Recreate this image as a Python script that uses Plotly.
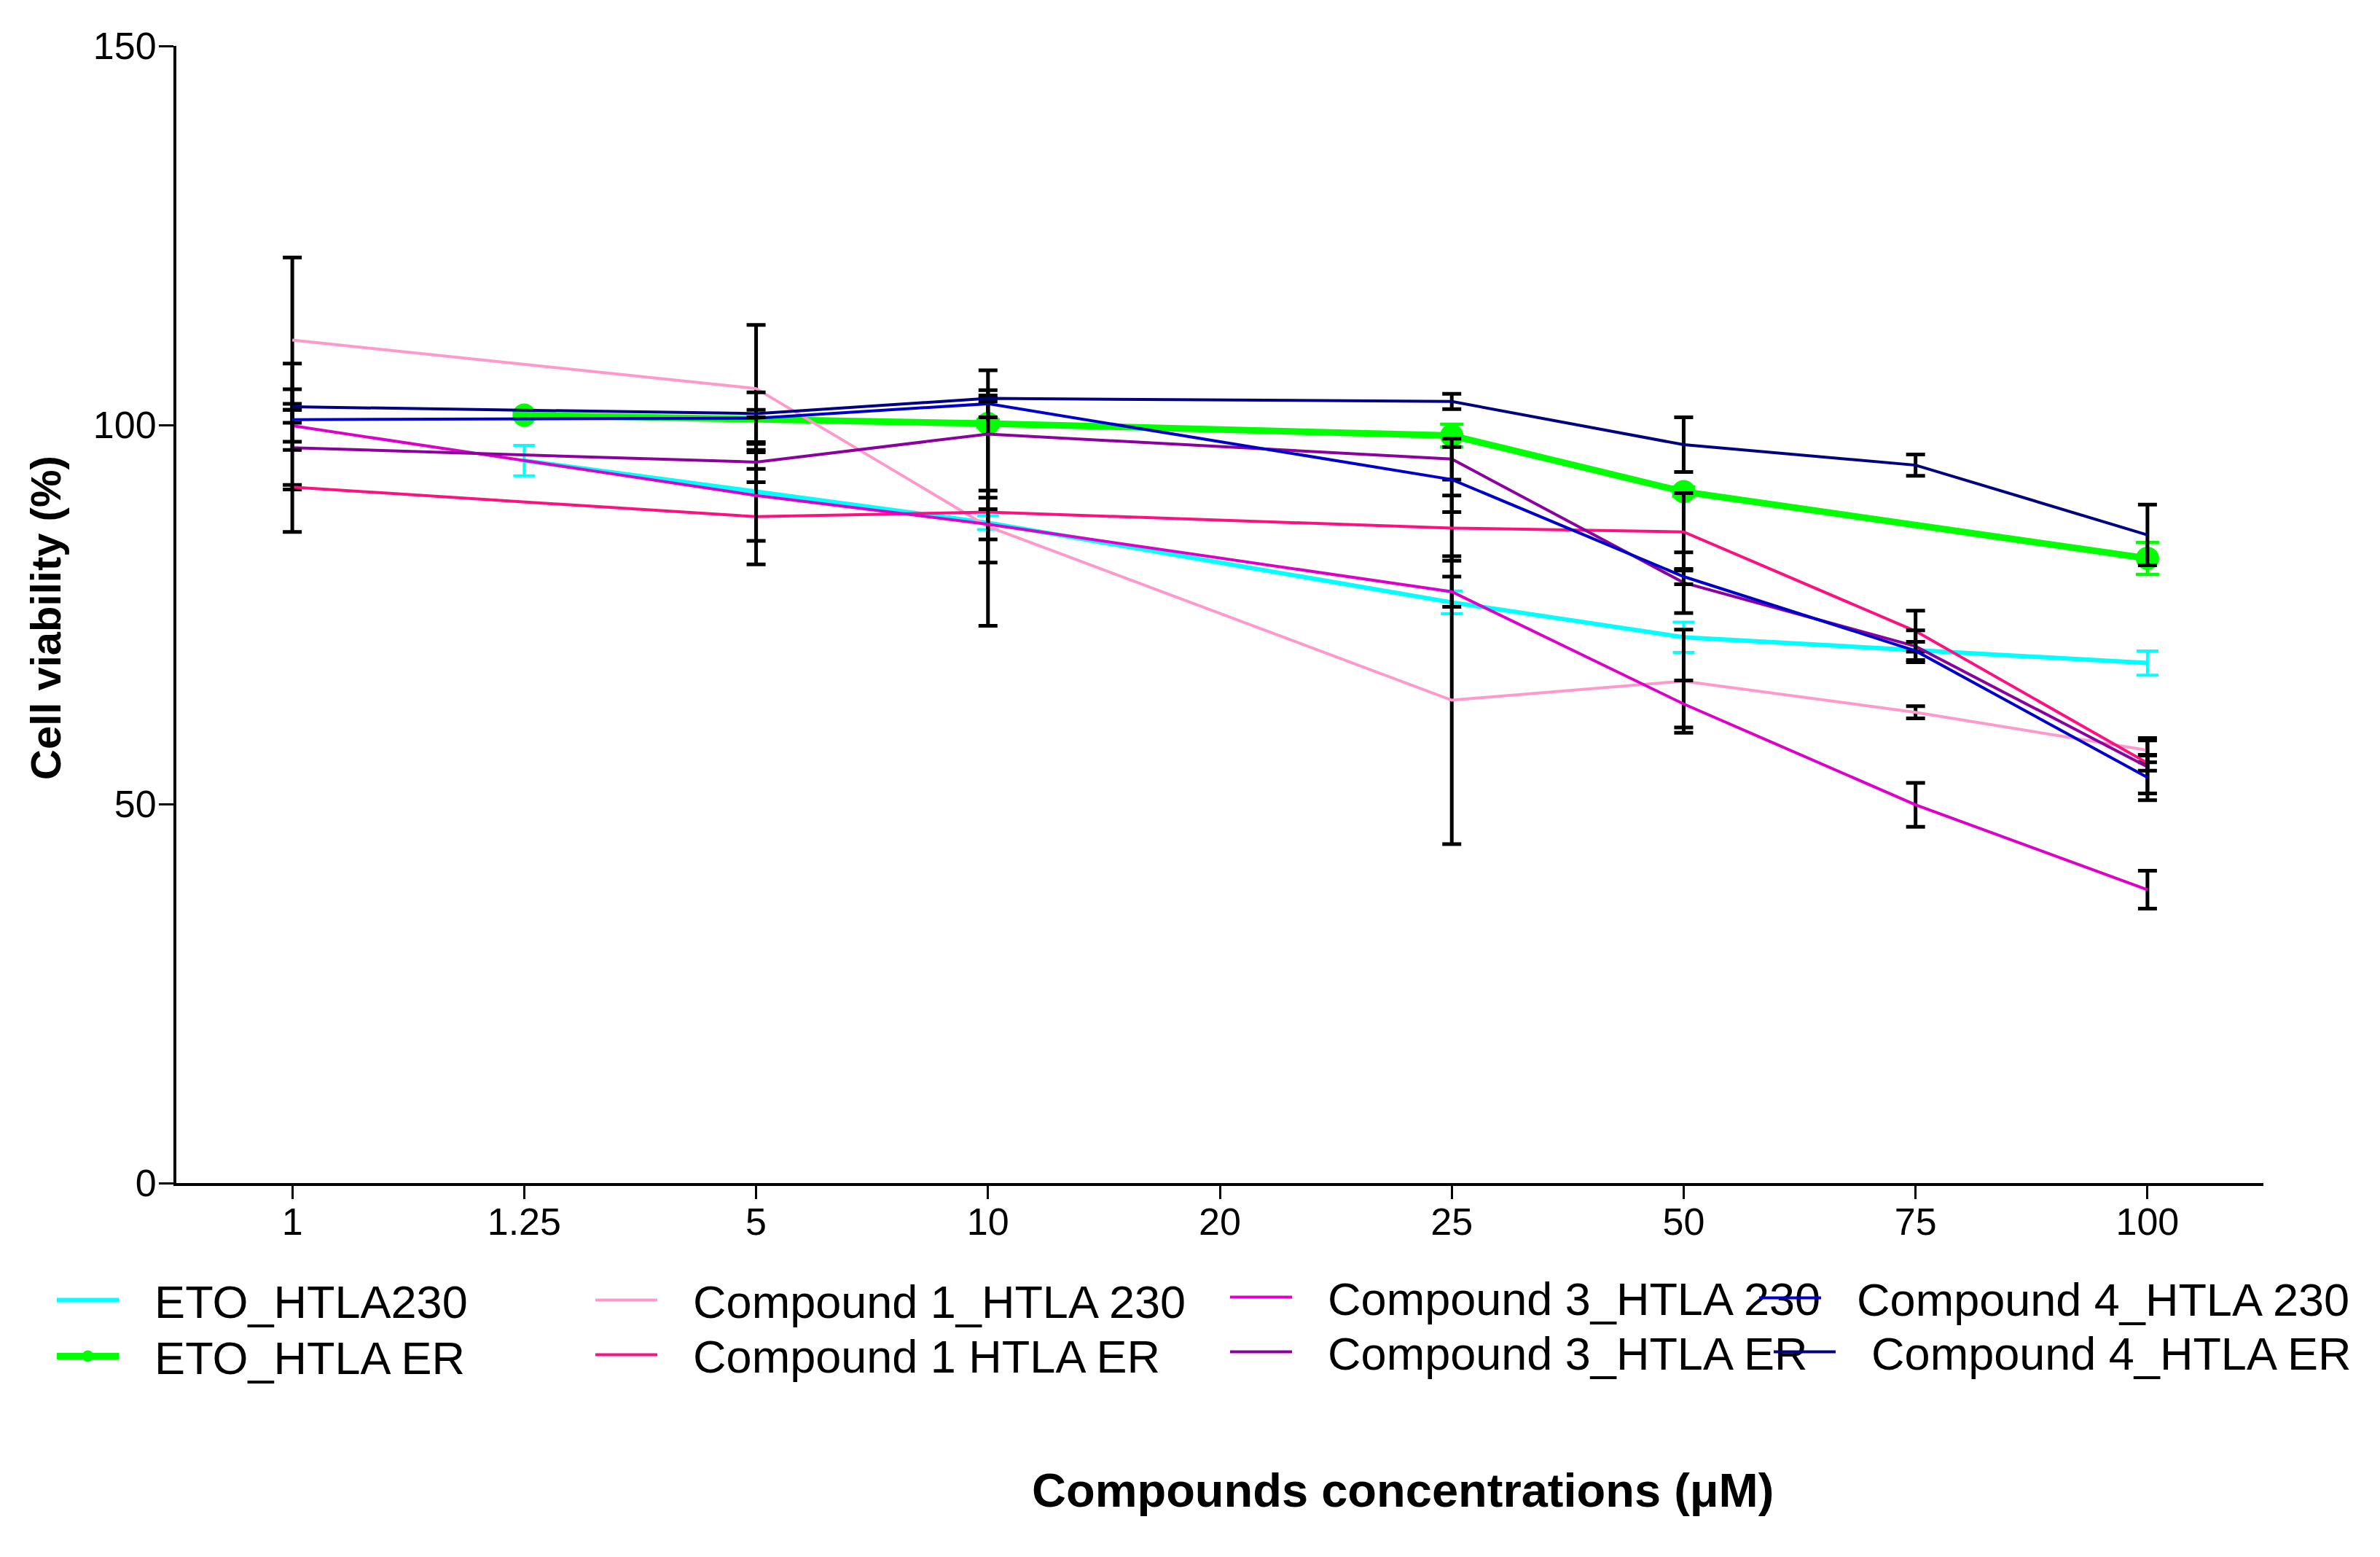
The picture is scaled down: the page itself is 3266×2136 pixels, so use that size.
import plotly.graph_objects as go

# ---------------- data ----------------
categories = ["1", "1.25", "5", "10", "20", "25", "50", "75", "100"]

eto_x = ["1.25", "10", "25", "50", "100"]
cmp_x = ["1", "5", "10", "25", "50", "75", "100"]

eto_230 = [95.3, 87.1, 76.6, 72.0, 68.6]
eto_230_err = [2.0, 0.9, 1.5, 2.0, 1.6]
eto_er = [101.3, 100.2, 98.6, 91.2, 82.4]
eto_er_err = [0.5, 0.5, 1.5, 0.6, 2.1]

c1_230 = [111.2, 104.8, 86.6, 63.7, 66.2, 62.1, 57.1]
c1_230_err = [10.9, 8.4, 4.75, 19.0, 6.8, 0.8, 1.6]
c1_er = [91.8, 87.9, 88.5, 86.4, 85.9, 72.8, 55.4]
c1_er_err = [0.3, 6.3, 15.0, 4.3, 5.1, 2.7, 1.0]

c3_230 = [99.9, 90.7, 86.9, 78.0, 63.2, 49.9, 38.7]
c3_230_err = [2.1, 6.0, 2.0, 2.0, 3.1, 2.9, 2.5]
c3_er = [97.0, 95.1, 98.8, 95.5, 79.2, 70.8, 54.9]
c3_er_err = [11.1, 2.65, 8.4, 2.7, 4.0, 2.1, 3.5]

c4_230 = [100.7, 100.9, 102.8, 92.8, 80.0, 70.2, 53.5]
c4_230_err = [4.0, 3.4, 1.8, 4.3, 1.0, 1.2, 3.0]
c4_er = [102.4, 101.5, 103.5, 103.1, 97.4, 94.7, 85.5]
c4_er_err = [0.4, 0.5, 0.4, 1.0, 3.6, 1.4, 4.0]

y_ticks = [0, 50, 100, 150]

FONT = "Liberation Sans, Arial, sans-serif"
OFF = 8  # page body margin
W, H = 3266 - OFF, 2136 - OFF
# plot area in page pixels: x 242..3106, y 63..1623
L, T = 242 - OFF, 63 - OFF
R = W - (3106 - OFF)
B = H - (1623 - OFF)
PW, PH = W - L - R, H - T - B


def px_x(p):
    """page pixel x -> paper"""
    return (p - OFF - L) / PW


def px_y(p):
    """page pixel y -> paper"""
    return (H - B - (p - OFF)) / PH


NB = "\u2002\u2009"

fig = go.Figure()

# ETO series
fig.add_trace(go.Scatter(
    x=eto_x, y=eto_230, name=NB + "ETO_HTLA230", mode="lines",
    line=dict(color="#00FFFF", width=6),
    error_y=dict(type="data", array=eto_230_err, color="#00FFFF", thickness=4, width=15),
    legend="legend"))
fig.add_trace(go.Scatter(
    x=eto_x, y=eto_er, name=NB + "ETO_HTLA ER", mode="lines+markers",
    line=dict(color="#00FF00", width=9),
    marker=dict(symbol="circle", size=32, color="#00FF00"),
    error_y=dict(type="data", array=eto_er_err, color="#00FF00", thickness=4.5, width=16),
    legend="legend2"))

black_err = dict(type="data", color="black", thickness=5, width=13)

series = [
    (c1_230, c1_230_err, "Compound 1_HTLA 230", "#FF99CC", "legend3"),
    (c1_er, c1_er_err, "Compound 1 HTLA ER", "#FF1080", "legend4"),
    (c3_230, c3_230_err, "Compound 3_HTLA 230", "#DD00CC", "legend5"),
    (c3_er, c3_er_err, "Compound 3_HTLA ER", "#8C00A0", "legend6"),
    (c4_230, c4_230_err, "Compound 4_HTLA 230", "#0000CC", "legend7"),
    (c4_er, c4_er_err, "Compound 4_HTLA ER", "#000080", "legend8"),
]
for vals, errs, name, col, leg in series:
    fig.add_trace(go.Scatter(
        x=cmp_x, y=vals, name=NB + name, mode="lines",
        line=dict(color=col, width=4),
        error_y=dict(black_err, array=errs),
        legend=leg))


def legend_at(sym_x, sym_y):
    """sym_x: page x where the legend line starts; sym_y: page y of line centre"""
    return dict(x=px_x(sym_x - 7), y=px_y(sym_y - 53), xanchor="left", yanchor="top",
                orientation="v", font=dict(family=FONT, size=63, color="black"),
                itemwidth=85, bgcolor="rgba(0,0,0,0)", borderwidth=0,
                tracegroupgap=0, itemclick=False, itemdoubleclick=False)


fig.update_layout(
    width=W, height=H, autosize=False,
    margin=dict(l=L, r=R, t=T, b=B, pad=0),
    paper_bgcolor="white", plot_bgcolor="white",
    font=dict(family=FONT, size=52, color="black"),
    showlegend=True,
    legend=legend_at(80, 1789),
    legend2=legend_at(80, 1866),
    legend3=legend_at(819, 1789),
    legend4=legend_at(819, 1864),
    legend5=legend_at(1690, 1785),
    legend6=legend_at(1690, 1860),
    legend7=legend_at(2416, 1786),
    legend8=legend_at(2436, 1860),
    xaxis=dict(
        type="category", categoryorder="array", categoryarray=categories,
        range=[-0.5, 8.5], showline=True, linecolor="black", linewidth=4,
        ticks="outside", ticklen=18, tickwidth=3, tickcolor="black",
        showgrid=False, zeroline=False, ticklabelstandoff=-13,
        tickfont=dict(family=FONT, size=52, color="black"),
    ),
    yaxis=dict(
        range=[0, 150], tickvals=y_ticks, ticktext=[str(v) for v in y_ticks],
        showline=True, linecolor="black", linewidth=4,
        ticks="outside", ticklen=20, tickwidth=3, tickcolor="black",
        showgrid=False, zeroline=False, ticklabelstandoff=-7,
        tickfont=dict(family=FONT, size=52, color="black"),
    ),
    annotations=[
        dict(text="<b>Cell viability (%)</b>", xref="paper", yref="paper",
             x=px_x(62), y=px_y(848), xanchor="center", yanchor="middle",
             textangle=-90, showarrow=False,
             font=dict(family=FONT, size=58, color="black")),
        dict(text="<b>Compounds concentrations (μM)</b>", xref="paper", yref="paper",
             x=px_x(1925), y=px_y(2044), xanchor="center", yanchor="middle",
             showarrow=False, font=dict(family=FONT, size=65, color="black")),
    ],
)

fig.write_html("out.html")
